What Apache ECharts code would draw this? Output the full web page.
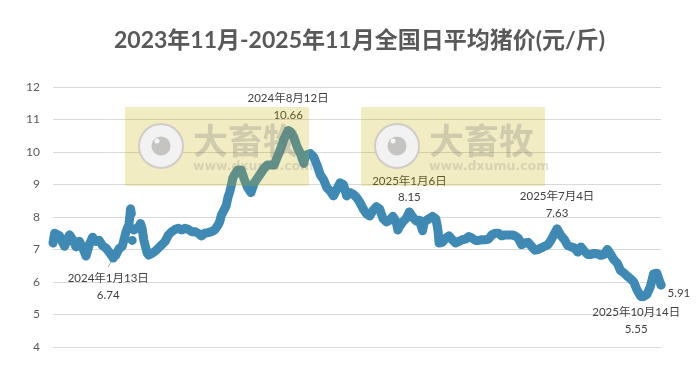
<!DOCTYPE html>
<html>
<head>
<meta charset="utf-8">
<script src="https://cdn.jsdelivr.net/npm/echarts@6/dist/echarts.min.js"></script>
<style>
html, body { margin: 0; padding: 0; background: #fff; }
#chart { width: 698px; height: 368px; }
</style>
</head>
<body>
<div id="chart"></div>
<script>
var titleText = '2023年11月-2025年11月全国日平均猪价(元/斤)';
var fontName = 'Lato, "Noto Sans CJK SC", sans-serif';

// 天数从 2023-11-01 起算
var days = [0,2,4,8,12,14,16,20,24,28,32,36,40,44,48,52,56,60,64,68,72,76,80,84,88,90,92,93,94,95,96,98,100,104,106,108,110,112,114,116,
  120,124,128,132,136,140,144,148,152,156,160,164,168,172,176,180,184,188,192,196,200,202,204,208,210,212,214,216,218,220,224,228,232,236,240,244,248,252,256,260,
  264,268,272,276,280,284,285,288,292,296,300,302,304,306,308,312,316,320,324,328,332,336,340,344,348,352,356,360,364,368,372,376,380,384,388,392,396,400,404,408,412,
  416,418,420,424,428,432,436,440,444,448,450,452,456,460,464,466,467,468,469,472,476,480,484,488,492,496,500,504,508,512,516,520,524,528,532,536,540,544,548,552,556,
  560,564,568,572,576,580,584,588,592,596,600,604,608,611,612,616,620,624,628,632,636,640,644,648,652,656,660,664,668,672,676,680,684,688,692,696,700,704,708,712,713,716,
  720,724,728,732,735,737];
// null 处断开，保留原图里孤立的点
var prices = [7.2,7.5,7.52,7.42,7.2,7.1,7.15,7.45,7.3,7.08,7.25,7.05,6.8,7.15,7.38,7.25,7.28,7.12,7.05,6.92,6.78,6.82,7.02,7.1,7.5,7.65,7.75,8.0,8.25,8.1,null,7.6,7.55,7.7,7.8,7.65,7.3,7.1,6.9,6.83,
  6.88,6.95,7.05,7.15,7.25,7.45,7.55,7.62,7.65,7.6,7.65,7.62,7.55,7.55,7.5,7.42,7.5,7.52,7.55,7.6,7.75,7.85,8.05,8.25,8.35,8.6,8.75,8.95,9.2,9.3,9.45,9.45,9.15,8.9,8.75,9.05,9.2,9.35,9.5,9.6,
  9.6,9.6,9.85,10.1,10.4,10.6,10.66,10.62,10.45,10.15,9.95,9.8,9.65,9.9,9.95,9.95,9.85,9.6,9.3,9.15,8.9,8.8,8.65,8.85,9.05,9.0,8.65,8.75,8.7,8.6,8.45,8.25,8.1,8.03,8.2,8.32,8.25,7.95,7.85,7.9,8.02,
  7.85,7.6,7.7,7.85,7.95,8.15,8.0,7.88,7.9,7.58,7.85,7.9,7.95,8.02,7.95,7.7,7.5,7.2,7.15,7.22,7.35,7.42,7.3,7.2,7.25,7.3,7.32,7.4,7.35,7.28,7.28,7.3,7.3,7.32,7.45,7.5,7.5,7.42,7.45,7.45,7.45,
  7.42,7.35,7.15,7.2,7.22,7.1,6.98,7.0,7.05,7.1,7.15,7.3,7.5,7.63,7.6,7.42,7.3,7.12,7.08,7.05,6.92,7.08,6.95,6.85,6.85,6.88,6.87,6.82,6.85,7.0,6.85,6.68,6.58,6.35,6.28,6.18,6.1,6.0,5.75,5.58,5.55,5.55,
  5.62,5.85,6.25,6.27,6.05,5.91];

// 孤立的点
var looseDays = [96];
var looseValues = [7.28];

// 标注点
var noteDays = [73, 285, 432, 611, 713, 737];
var noteDates = ['2024年1月13日', '2024年8月12日', '2025年1月6日', '2025年7月4日', '2025年10月14日', ''];
var noteValues = [6.74, 10.66, 8.15, 7.63, 5.55, 5.91];

var yTicks = [4, 5, 6, 7, 8, 9, 10, 11, 12];

var points = days.map(function (d, i) { return [d, prices[i]]; });
var loosePoints = looseDays.map(function (d, i) { return [d, looseValues[i]]; });

var noteStyle = [
  { position: 'bottom', offset: [-5, 3], align: 'center' },
  { position: 'top', offset: [0, 2], align: 'center' },
  { position: 'top', offset: [0, 3], align: 'center' },
  { position: 'top', offset: [0, 2], align: 'center' },
  { position: 'bottom', offset: [-5, -2], align: 'center' },
  { position: 'right', offset: [-3, 8], align: 'left' }
];

var notes = noteDays.map(function (d, i) {
  return {
    value: [d, noteValues[i]],
    label: {
      show: true,
      position: noteStyle[i].position,
      offset: noteStyle[i].offset,
      align: noteStyle[i].align,
      formatter: noteDates[i] ? noteDates[i] + '\n' + noteValues[i] : String(noteValues[i])
    }
  };
});

/*水印*/
function watermark(left) {
  return [
    { type: 'rect', z: 100, shape: { x: left, y: 107, width: 184, height: 79 },
      style: { fill: 'rgba(210,185,0,0.224)', shadowBlur: 4, shadowColor: 'rgba(0,0,0,0.08)' } },
    { type: 'circle', z: 101, shape: { cx: left + 36, cy: 146, r: 22 },
      style: { fill: '#f2f2f2', stroke: '#cfcdc6', lineWidth: 2 } },
    { type: 'circle', z: 102, shape: { cx: left + 36, cy: 146, r: 9.5 },
      style: { fill: '#c6c4c0' } },
    { type: 'circle', z: 103, shape: { cx: left + 32, cy: 141, r: 2.5 },
      style: { fill: '#f5f5f5' } },
    { type: 'text', z: 101, x: left + 68, y: 123,
      style: { text: '大畜牧', font: 'bold 35px "Noto Sans CJK SC"', fill: 'rgba(120,120,120,0.28)' } },
    { type: 'text', z: 101, x: left + 68, y: 160,
      style: { text: 'www.dxumu.com', font: 'bold 12.5px "DejaVu Sans"', fill: 'rgba(120,120,120,0.22)' } }
  ];
}

var myChart = echarts.init(document.getElementById('chart'), null, { renderer: 'canvas' });
var option = {
  animation: false,
  backgroundColor: '#fff',
  title: {
    text: titleText,
    left: 109,
    top: 24,
    textStyle: { fontFamily: fontName, fontSize: 23, fontWeight: 'bold', color: '#595959' }
  },
  grid: { left: 53, right: 37, top: 87, bottom: 21 },
  xAxis: {
    type: 'value',
    min: 0,
    max: 737,
    show: false
  },
  yAxis: {
    type: 'value',
    min: yTicks[0],
    max: yTicks[yTicks.length - 1],
    interval: 1,
    axisLine: { show: false },
    axisTick: { show: false },
    axisLabel: { margin: 13, color: '#595959', fontSize: 12, fontFamily: fontName },
    splitLine: { lineStyle: { color: '#d9d9d9', width: 1 } }
  },
  graphic: watermark(125).concat(watermark(361)),
  series: [
    {
      name: '日平均猪价',
      type: 'line',
      symbol: 'none',
      connectNulls: false,
      lineStyle: { color: '#3f8ab4', width: 9, cap: 'round', join: 'round' },
      data: points
    },
    {
      name: '孤立点',
      type: 'scatter',
      symbolSize: 9,
      itemStyle: { color: '#3f8ab4', opacity: 1 },
      data: loosePoints
    },
    {
      name: '引线',
      type: 'line',
      symbol: 'none',
      lineStyle: { color: '#a6a6a6', width: 1 },
      data: [[73, 6.74], [67, 6.46]]
    },
    {
      name: '标注',
      type: 'scatter',
      symbolSize: 9,
      z: 3,
      itemStyle: { color: '#3f8ab4', opacity: 1 },
      label: {
        color: '#404040',
        fontSize: 11.5,
        lineHeight: 16.5,
        fontFamily: fontName
      },
      data: notes
    }
  ]
};
myChart.setOption(option);
</script>
</body>
</html>
